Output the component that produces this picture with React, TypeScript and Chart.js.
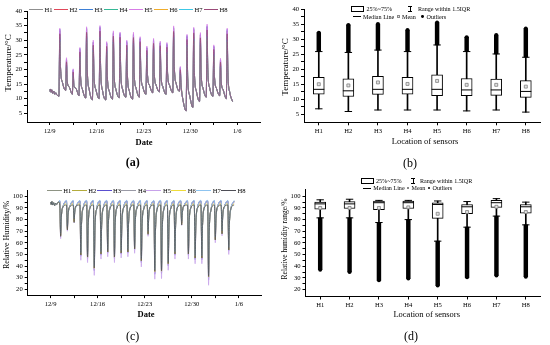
import React, { useEffect, useRef } from 'react';
import { Chart, registerables } from 'chart.js';

Chart.register(...registerables);

const FONT = '"Liberation Serif", "Times New Roman", serif';

// ---------- categories / labels ----------
const sensors = ['H1', 'H2', 'H3', 'H4', 'H5', 'H6', 'H7', 'H8'];
const tempColors = ['#8f8f8f', '#e0485a', '#3d7fd6', '#35b896', '#d77ce6', '#f0ad2c', '#3cc8e6', '#9a4a78'];
const humColors = ['#8e9484', '#b4ac3c', '#5a4fd0', '#9a9aa6', '#c7a2ea', '#efdc3a', '#8ec4f0', '#4e4e56'];

const dateTickValues = [0, 7, 14, 21, 28];
const dateTickLabels = ['12/9', '12/16', '12/23', '12/30', '1/6'];
const dateMinorTicks = [3.5, 10.5, 17.5, 24.5];

// ---------- time series (a): temperature ----------
const startTimes = [0, 0.1, 0.2, 0.3, 0.45, 0.6, 0.75, 0.9, 1.05, 1.2];
const tempStart = [12.5, 13.3, 12.2, 13.0, 11.8, 12.6, 11.5, 12.0, 11.3, 11.0];
const tempTroughs = [10.8, 12.8, 11.5, 11.0, 10.2, 9.6, 10.0, 9.6, 9.8, 10.3, 10.5, 9.8, 10.5, 11.5, 12.0, 12.3, 11.5, 12.0, 12.5, 5.8, 7.0, 9.0, 10.5, 10.8, 11.0, 10.0];
const tempKnee = [21, 16, 14.5, 17.5, 20, 18, 20, 17.5, 19, 19, 18, 19, 19, 18, 19, 18.5, 18.5, 21, 15, 17, 19, 19, 20, 17.5, 16, 19];
const tempEvening = [15.5, 14, 13.5, 13, 13, 13, 12.5, 12.5, 13, 13, 12.5, 13.5, 14, 14.5, 14.5, 14, 14.5, 15, 9.5, 11, 12.5, 13.5, 13.5, 13.5, 13, 12];
const tempEnd = 9.0;

const tempPeaksH1 = [30.9, 21.7, 18.3, 24.9, 31.3, 27.2, 31.7, 26.7, 30.0, 29.7, 27.2, 29.6, 28.2, 25.3, 27.7, 26.9, 26.4, 31.6, 19.0, 29.0, 31.1, 29.5, 32.0, 25.7, 21.5, 30.9];
const tempPeaksH2 = [33.3, 23.4, 19.6, 26.8, 33.8, 29.2, 34.2, 28.8, 32.3, 32.0, 29.2, 31.9, 30.4, 27.3, 29.8, 29.0, 28.4, 34.0, 20.5, 31.2, 33.6, 31.8, 34.5, 27.7, 23.2, 33.2];
const tempPeaksH3 = [33.8, 23.5, 19.9, 27.2, 34.2, 29.4, 34.6, 29.1, 32.6, 32.4, 29.6, 32.1, 30.8, 27.5, 30.2, 29.2, 28.8, 34.3, 20.7, 31.6, 34.0, 32.0, 34.9, 28.0, 23.3, 33.7];
const tempPeaksH4 = [31.7, 22.3, 18.8, 25.6, 32.2, 27.9, 32.6, 27.4, 30.9, 30.5, 27.9, 30.4, 29.0, 26.0, 28.5, 27.6, 27.2, 32.5, 19.5, 29.8, 32.0, 30.3, 33.0, 26.4, 22.1, 31.7];
const tempPeaksH5 = [34.1, 24.0, 20.2, 27.5, 34.6, 30.0, 35.0, 29.5, 33.2, 32.8, 30.0, 32.7, 31.2, 28.0, 30.6, 29.7, 29.2, 34.9, 21.0, 32.0, 34.4, 32.6, 35.5, 28.4, 23.8, 34.1];
const tempPeaksH6 = [29.5, 20.8, 17.5, 23.8, 29.9, 26.0, 30.3, 25.5, 28.7, 28.4, 26.0, 28.3, 27.0, 24.2, 26.5, 25.7, 25.3, 30.2, 18.2, 27.7, 29.8, 28.2, 30.6, 24.6, 20.6, 29.5];
const tempPeaksH7 = [30.2, 21.2, 17.9, 24.3, 30.6, 26.6, 31.0, 26.1, 29.4, 29.0, 26.6, 28.9, 27.6, 24.8, 27.1, 26.3, 25.8, 30.9, 18.6, 28.3, 30.4, 28.9, 31.3, 25.1, 21.1, 30.2];
const tempPeaksH8 = [32.2, 22.6, 19.1, 26.0, 32.7, 28.3, 33.1, 27.9, 31.4, 31.0, 28.3, 30.9, 29.5, 26.5, 28.9, 28.1, 27.6, 33.0, 19.9, 30.2, 32.5, 30.8, 33.5, 26.8, 22.5, 32.2];
const tempPeaks = [tempPeaksH1, tempPeaksH2, tempPeaksH3, tempPeaksH4, tempPeaksH5, tempPeaksH6, tempPeaksH7, tempPeaksH8];

// ---------- time series (c): relative humidity ----------
const humStart = [95, 93, 95.5, 92.5, 94.5, 92, 94, 93, 94.5, 95];
const humPlateau = [95, 95.5, 96, 96, 95, 93.5, 96.5, 92.5];
const humRecovery = [82, 84, 87, 76, 75, 72, 76, 77, 75, 76, 77, 78, 74, 83, 70, 70, 73, 76, 86, 76, 75, 75, 70, 81, 83, 77];
const humLate = [91, 91, 92, 90, 90, 89, 90, 90, 90, 90, 90, 90, 89, 91, 89, 89, 89, 90, 92, 90, 90, 90, 88, 91, 91, 90];

const humMinH1 = [69.6, 74.7, 80.7, 54.5, 52.9, 44.0, 55.3, 56.9, 52.9, 56.1, 56.9, 59.4, 49.9, 71.2, 41.3, 41.7, 47.5, 55.3, 78.8, 55.3, 52.1, 52.1, 37.1, 66.6, 71.5, 58.5];
const humMinH2 = [69.1, 74.5, 80.7, 53.5, 51.8, 42.6, 54.3, 56.0, 51.8, 55.2, 56.0, 58.5, 48.7, 70.8, 39.8, 40.2, 46.3, 54.3, 78.7, 54.3, 51.0, 51.0, 35.4, 66.1, 71.1, 57.7];
const humMinH3 = [66.2, 72.2, 79.3, 48.5, 46.6, 36.1, 49.4, 51.3, 46.6, 50.4, 51.3, 54.2, 43.1, 68.1, 33.0, 33.5, 40.3, 49.4, 77.0, 49.4, 45.6, 45.6, 28.1, 62.7, 68.4, 53.2];
const humMinH4 = [66.8, 72.7, 79.6, 49.5, 47.6, 37.4, 50.4, 52.3, 47.6, 51.4, 52.3, 55.1, 44.2, 68.7, 34.3, 34.8, 41.5, 50.4, 77.4, 50.4, 46.7, 46.7, 29.5, 63.4, 69.0, 54.1];
const humMinH5 = [63.6, 70.0, 77.4, 45.0, 43.0, 32.0, 46.0, 48.0, 43.0, 47.0, 48.0, 51.0, 39.3, 65.6, 28.7, 29.2, 36.4, 46.0, 75.0, 46.0, 42.0, 42.0, 23.5, 60.0, 66.0, 50.0];
const humMinH6 = [65.9, 71.5, 78.0, 49.5, 47.7, 38.1, 50.4, 52.1, 47.7, 51.3, 52.1, 54.8, 44.5, 67.6, 35.2, 35.6, 41.9, 50.4, 75.9, 50.4, 46.9, 46.9, 30.6, 62.7, 68.0, 53.9];
const humMinH7 = [68.2, 74.0, 80.7, 51.5, 49.7, 39.8, 52.4, 54.2, 49.7, 53.3, 54.2, 56.9, 46.4, 70.0, 36.8, 37.3, 43.8, 52.4, 78.5, 52.4, 48.8, 48.8, 32.1, 65.0, 70.4, 56.0];
const humMinH8 = [65.5, 71.0, 77.4, 49.5, 47.8, 38.3, 50.4, 52.1, 47.8, 51.2, 52.1, 54.7, 44.6, 67.2, 35.5, 35.9, 42.1, 50.4, 75.3, 50.4, 46.9, 46.9, 31.0, 62.4, 67.6, 53.8];
const humMins = [humMinH1, humMinH2, humMinH3, humMinH4, humMinH5, humMinH6, humMinH7, humMinH8];

// ---------- box plot (b): temperature ----------
const tempQ1 = [11.7, 10.9, 11.6, 11.7, 11.2, 11.2, 11.3, 10.6];
const tempMedian = [13.3, 12.8, 13.3, 13.3, 13.3, 13.1, 13.1, 12.6];
const tempQ3 = [17.3, 16.8, 17.6, 17.3, 18.1, 16.9, 16.7, 16.2];
const tempMean = [15.0, 14.6, 15.6, 15.1, 16.1, 14.8, 14.8, 14.2];
const tempWhiskerLow = [6.8, 5.9, 6.4, 6.4, 6.4, 6.1, 6.4, 5.7];
const tempWhiskerHigh = [25.9, 25.6, 26.4, 25.9, 28.1, 25.9, 25.1, 24.0];
const tempOutlierMax = [32.2, 34.8, 35.1, 33.1, 35.6, 30.7, 31.4, 33.6];

// ---------- box plot (d): humidity ----------
const humQ1 = [89, 89.5, 88.5, 89.5, 81, 85, 90.5, 85.5];
const humMedian = [93.5, 93.5, 94.5, 94.5, 93, 91, 94.5, 91];
const humQ3 = [95, 95.5, 96, 96, 94.5, 93, 96.5, 93];
const humMean = [90, 90, 90, 90.5, 85, 86.5, 91, 86.5];
const humWhiskerLow = [81.5, 81.5, 77.5, 80, 61.5, 73.5, 83, 75.5];
const humWhiskerHigh = [97, 97.5, 96.5, 96.5, 96, 95.5, 98, 95];
const humOutlierMin = [37, 35, 28, 29.5, 23.5, 30.5, 32, 31];

// ---------- axis tick values ----------
const tempMajor = [5, 10, 15, 20, 25, 30, 35, 40];
const tempMinor = [7.5, 12.5, 17.5, 22.5, 27.5, 32.5, 37.5];
const humMajor = [20, 30, 40, 50, 60, 70, 80, 90, 100];
const humMinor = [25, 35, 45, 55, 65, 75, 85, 95];

// sampling positions within a day (fraction of day)
const H_TROUGH = 0.37, H_PEAK = 0.5, H_KNEE = 0.6, H_EVE = 0.9, T_END = 27.3;
const DATE_MIN = -3.4, DATE_MAX = 31.4;

function tempSeries(s: number) {
  const pts: { x: number; y: number }[] = [];
  startTimes.forEach((t, i) => pts.push({ x: t, y: tempStart[i] }));
  tempPeaks[s].forEach((p, k) => {
    const d = k + 1;
    pts.push({ x: d + H_TROUGH, y: tempTroughs[k] });
    pts.push({ x: d + H_PEAK, y: p });
    pts.push({ x: d + H_KNEE, y: tempKnee[k] });
    pts.push({ x: d + H_EVE, y: tempEvening[k] });
  });
  pts.push({ x: T_END, y: tempEnd });
  return pts;
}

function humSeries(s: number) {
  const pts: { x: number; y: number }[] = [];
  startTimes.forEach((t, i) => pts.push({ x: t, y: humStart[i] }));
  humMins[s].forEach((m, k) => {
    const d = k + 1;
    pts.push({ x: d + H_TROUGH, y: humPlateau[s] });
    pts.push({ x: d + H_PEAK, y: m });
    pts.push({ x: d + H_KNEE, y: humRecovery[k] });
    pts.push({ x: d + 0.85, y: humLate[k] });
  });
  pts.push({ x: T_END, y: humPlateau[s] });
  return pts;
}

function axisBase() {
  return {
    grid: { drawOnChartArea: false, drawTicks: true, tickLength: 3, color: '#000', lineWidth: 1 },
    border: { display: true, color: '#000', width: 1 },
  };
}
function tickFont() {
  return { family: FONT, size: 6.6 };
}

function yAxis(min: number, max: number, major: number[], minor: number[], width: number) {
  return {
    type: 'linear',
    min,
    max,
    ...axisBase(),
    afterBuildTicks: (s: any) => {
      s.ticks = [...major, ...minor].sort((a, b) => a - b).map((v) => ({ value: v }));
    },
    afterFit: (s: any) => {
      s.width = width;
    },
    ticks: {
      color: '#000',
      font: tickFont(),
      padding: 2,
      autoSkip: false,
      callback: (v: number) => (major.includes(v) ? String(v) : ''),
    },
  };
}

function seriesConfig(datasets: any[], yMin: number, yMax: number, major: number[], minor: number[], padding: any, yWidth: number, xHeight: number) {
  return {
    type: 'line',
    data: { datasets },
    options: {
      responsive: false,
      animation: false,
      events: [],
      layout: { padding },
      plugins: { legend: { display: false }, tooltip: { enabled: false } },
      scales: {
        x: {
          type: 'linear',
          min: DATE_MIN,
          max: DATE_MAX,
          ...axisBase(),
          afterBuildTicks: (s: any) => {
            s.ticks = [...dateTickValues, ...dateMinorTicks].sort((a, b) => a - b).map((v) => ({ value: v }));
          },
          afterFit: (s: any) => {
            s.height = xHeight;
          },
          ticks: {
            color: '#000',
            font: tickFont(),
            padding: 2,
            autoSkip: false,
            maxRotation: 0,
            callback: (v: number) => {
              const i = dateTickValues.indexOf(v);
              return i >= 0 ? dateTickLabels[i] : '';
            },
          },
        },
        y: yAxis(yMin, yMax, major, minor, yWidth),
      },
    },
  };
}

function lineDatasets(colors: string[], make: (s: number) => any[]) {
  // later sensors are drawn on top (as in the original plot)
  return sensors.map((name, s) => ({
    label: name,
    data: make(s),
    borderColor: colors[s],
    backgroundColor: colors[s],
    borderWidth: 0.8,
    pointRadius: 0,
    cubicInterpolationMode: 'monotone',
    fill: false,
    order: sensors.length - s,
  }));
}

function capDataset(values: number[], radius: number, order: number) {
  return {
    type: 'line',
    data: values,
    showLine: false,
    pointStyle: 'line',
    pointRadius: radius,
    pointBorderColor: '#000',
    pointBorderWidth: 1,
    borderColor: '#000',
    order,
  };
}

function boxConfig(p: any) {
  return {
    type: 'bar',
    data: {
      labels: sensors,
      datasets: [
        { type: 'bar', data: sensors.map((_, i) => [p.wLow[i], p.wHigh[i]]), backgroundColor: '#000', barThickness: 1, grouped: false, order: 8 },
        { type: 'bar', data: sensors.map((_, i) => [p.outFrom[i], p.outTo[i]]), backgroundColor: '#000', barThickness: 3.8, grouped: false, order: 7 },
        {
          type: 'bar',
          data: sensors.map((_, i) => [p.q1[i], p.q3[i]]),
          backgroundColor: '#fff',
          borderColor: '#000',
          borderWidth: 1,
          borderSkipped: false,
          barThickness: 11,
          grouped: false,
          order: 6,
        },
        capDataset(p.wLow, 3.7, 4),
        capDataset(p.wHigh, 3.7, 4),
        capDataset(p.median, 5.5, 3),
        {
          type: 'line',
          data: p.mean,
          showLine: false,
          pointStyle: 'rect',
          pointRadius: 2.1,
          pointBackgroundColor: '#e2e2e2',
          pointBorderColor: '#808080',
          pointBorderWidth: 0.8,
          order: 1,
        },
        {
          type: 'line',
          data: p.outEnd,
          showLine: false,
          pointStyle: 'circle',
          pointRadius: 2,
          pointBackgroundColor: '#000',
          pointBorderColor: '#000',
          pointBorderWidth: 0,
          order: 7,
        },
      ],
    },
    options: {
      responsive: false,
      animation: false,
      events: [],
      layout: { padding: p.padding },
      plugins: { legend: { display: false }, tooltip: { enabled: false } },
      scales: {
        x: {
          type: 'category',
          offset: true,
          grid: { drawOnChartArea: false, drawTicks: true, tickLength: 3, color: '#000', lineWidth: 1, offset: false },
          border: { display: true, color: '#000', width: 1 },
          afterFit: (s: any) => {
            s.height = p.xHeight;
          },
          ticks: { color: '#000', font: tickFont(), padding: 2, autoSkip: false, maxRotation: 0 },
        },
        y: yAxis(p.yMin, p.yMax, p.major, p.minor, p.yWidth),
      },
    },
  };
}

function ChartBox({ left, top, width, height, make }: any) {
  const ref = useRef<HTMLCanvasElement>(null);
  useEffect(() => {
    const chart = new Chart(ref.current as HTMLCanvasElement, make());
    return () => chart.destroy();
  }, []);
  return (
    <canvas
      ref={ref}
      width={width}
      height={height}
      style={{ position: 'absolute', left, top, width, height }}
    />
  );
}

function Txt({ x, y, size, children, bold = false, rotate = false, anchor = 'center' }: any) {
  const tr = anchor === 'center' ? 'translate(-50%,-50%)' : 'translate(0,-50%)';
  return (
    <div
      style={{
        position: 'absolute',
        left: x,
        top: y,
        transform: tr + (rotate ? ' rotate(-90deg)' : ''),
        fontFamily: FONT,
        fontSize: size,
        fontWeight: bold ? 'bold' : 'normal',
        whiteSpace: 'nowrap',
        lineHeight: 1,
        color: '#000',
      }}
    >
      {children}
    </div>
  );
}

function LineLegend({ x0, y, pitch, lineW, textDx, colors }: any) {
  return (
    <>
      {sensors.map((name, i) => (
        <React.Fragment key={name}>
          <div style={{ position: 'absolute', left: x0 + pitch * i, top: y - 0.5, width: lineW, height: 1, background: colors[i] }} />
          <Txt x={x0 + pitch * i + textDx} y={y} size={6.6} anchor="left">
            {name}
          </Txt>
        </React.Fragment>
      ))}
    </>
  );
}

function BoxLegend({ bx, by, txt1, ix, txt2, r2y, mx, mtx, meanx, meantx, ox, otx }: any) {
  const fs = 6.1;
  return (
    <>
      <div style={{ position: 'absolute', left: bx, top: by - 3, width: 13.5, height: 6, boxSizing: 'border-box', border: '1px solid #000', background: '#fff' }} />
      <Txt x={txt1} y={by} size={fs} anchor="left">25%~75%</Txt>
      <div style={{ position: 'absolute', left: ix - 2, top: by - 3, width: 4, height: 1, background: '#000' }} />
      <div style={{ position: 'absolute', left: ix - 0.5, top: by - 3, width: 1, height: 6, background: '#000' }} />
      <div style={{ position: 'absolute', left: ix - 2, top: by + 2, width: 4, height: 1, background: '#000' }} />
      <Txt x={txt2} y={by} size={fs} anchor="left">Range within 1.5IQR</Txt>
      <div style={{ position: 'absolute', left: mx, top: r2y - 0.5, width: 8, height: 1, background: '#000' }} />
      <Txt x={mtx} y={r2y} size={fs} anchor="left">Median Line</Txt>
      <div style={{ position: 'absolute', left: meanx - 1.3, top: r2y - 1.3, width: 2.6, height: 2.6, boxSizing: 'border-box', border: '0.7px solid #888', background: '#e2e2e2' }} />
      <Txt x={meantx} y={r2y} size={fs} anchor="left">Mean</Txt>
      <div style={{ position: 'absolute', left: ox - 1.4, top: r2y - 1.4, width: 2.8, height: 2.8, borderRadius: '50%', background: '#000' }} />
      <Txt x={otx} y={r2y} size={fs} anchor="left">Outliers</Txt>
    </>
  );
}

export default function App() {
  const makeA = () =>
    seriesConfig(lineDatasets(tempColors, tempSeries), 2, 40, tempMajor, tempMinor, { left: 0, top: 11, right: 15, bottom: 0 }, 27, 50);
  const makeC = () =>
    seriesConfig(lineDatasets(humColors, humSeries), 15, 105, humMajor, humMinor, { left: 0, top: 18.5, right: 13.3, bottom: 0 }, 27.7, 49.9);
  const makeB = () =>
    boxConfig({
      q1: tempQ1, q3: tempQ3, median: tempMedian, mean: tempMean, wLow: tempWhiskerLow, wHigh: tempWhiskerHigh,
      outFrom: tempWhiskerHigh, outTo: tempOutlierMax, outEnd: tempOutlierMax,
      yMin: 2.3, yMax: 40, major: tempMajor, minor: tempMinor,
      padding: { left: 0, top: 9.3, right: 9.4, bottom: 0 }, yWidth: 29, xHeight: 49.7,
    });
  const makeD = () =>
    boxConfig({
      q1: humQ1, q3: humQ3, median: humMedian, mean: humMean, wLow: humWhiskerLow, wHigh: humWhiskerHigh,
      outFrom: humOutlierMin, outTo: humWhiskerLow, outEnd: humOutlierMin,
      yMin: 14, yMax: 105.5, major: humMajor, minor: humMinor,
      padding: { left: 0, top: 17.9, right: 9.5, bottom: 0 }, yWidth: 30.5, xHeight: 48.5,
    });

  return (
    <div style={{ position: 'fixed', left: 0, top: 0, width: 550, height: 345, background: '#fff', overflow: 'hidden' }}>
      <ChartBox left={0} top={0} width={275} height={172} make={makeA} />
      <ChartBox left={275} top={0} width={275} height={172} make={makeB} />
      <ChartBox left={0} top={172} width={275} height={173} make={makeC} />
      <ChartBox left={275} top={172} width={275} height={173} make={makeD} />

      {/* (a) */}
      <LineLegend x0={29} y={9.8} pitch={25} lineW={14} textDx={15.5} colors={tempColors} />
      <Txt x={8} y={63} size={9} rotate>Temperature/°C</Txt>
      <Txt x={144} y={141.7} size={8.5} bold>Date</Txt>
      <Txt x={132.7} y={161.7} size={12} bold>(a)</Txt>

      {/* (b) */}
      <BoxLegend bx={350.7} by={8.7} txt1={366.5} ix={410} txt2={418} r2y={16.7} mx={352.5} mtx={363} meanx={398.5} meantx={402} ox={422.5} otx={426.5} />
      <Txt x={285} y={66.7} size={9} rotate>Temperature/°C</Txt>
      <Txt x={425} y={140.7} size={8.5}>Location of sensors</Txt>
      <Txt x={410} y={163.3} size={12}>(b)</Txt>

      {/* (c) */}
      <LineLegend x0={46.7} y={190.8} pitch={24.9} lineW={15} textDx={16.6} colors={humColors} />
      <Txt x={6.7} y={235.3} size={8} rotate>Relative Humidity/%</Txt>
      <Txt x={146} y={314.3} size={8.5} bold>Date</Txt>
      <Txt x={132.7} y={335.7} size={12}>(c)</Txt>

      {/* (d) */}
      <BoxLegend bx={360.7} by={180.7} txt1={376} ix={413} txt2={420} r2y={188} mx={363} mtx={373.3} meanx={408} meantx={411.5} ox={429} otx={432.5} />
      <Txt x={285} y={238.7} size={7.5} rotate>Relative humidity range/%</Txt>
      <Txt x={426.7} y={313.7} size={8.5}>Location of sensors</Txt>
      <Txt x={411} y={336} size={12}>(d)</Txt>
    </div>
  );
}
